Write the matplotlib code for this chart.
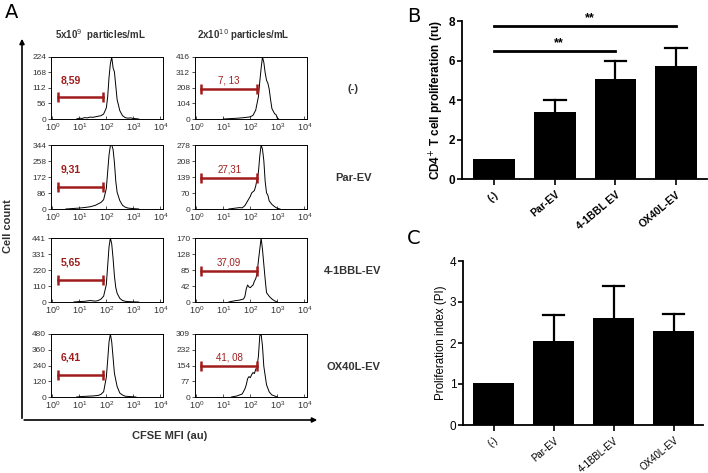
import numpy as np
import matplotlib
matplotlib.use('Agg')
from matplotlib import pyplot as plt

plt.rcParams['font.family'] = ['Liberation Sans', 'DejaVu Sans']

W, H = 708, 473

# ---- panel A: CFSE histograms (log10 CFSE, counts) ----
row_names = ['(-)', 'Par-EV', '4-1BBL-EV', 'OX40L-EV']
col_titles = ['5x10$^{9}$  particles/mL', '2x10$^{10}$ particles/mL']

# left column (5x10^9)
l1_x = [0.9, 1.0, 1.1, 1.2, 1.3, 1.4, 1.5, 1.6, 1.7, 1.8, 1.9, 2.0, 2.05, 2.1, 2.15, 2.2, 2.25, 2.3, 2.35, 2.4, 2.5, 2.6, 2.7, 2.8, 2.9, 3.0, 3.1, 3.2]
l1_y = [0, 3, 2, 5, 4, 7, 6, 8, 10, 12, 18, 40, 80, 150, 200, 224, 185, 170, 120, 70, 30, 12, 5, 3, 4, 2, 1, 0]
l2_x = [0.5, 0.8, 1.0, 1.2, 1.4, 1.6, 1.7, 1.8, 1.9, 2.0, 2.05, 2.1, 2.15, 2.2, 2.25, 2.3, 2.35, 2.4, 2.5, 2.6, 2.7, 2.8, 3.0, 3.2]
l2_y = [0, 3, 5, 8, 12, 20, 28, 35, 50, 110, 200, 290, 340, 344, 320, 250, 150, 90, 45, 20, 10, 5, 2, 0]
l3_x = [0.8, 1.0, 1.2, 1.4, 1.5, 1.6, 1.7, 1.8, 1.9, 2.0, 2.05, 2.1, 2.15, 2.2, 2.25, 2.3, 2.35, 2.4, 2.5, 2.6, 2.7, 2.8, 3.0, 3.2]
l3_y = [0, 3, 5, 10, 8, 6, 10, 20, 40, 120, 250, 380, 441, 400, 300, 180, 100, 60, 25, 10, 5, 3, 1, 0]
l4_x = [0.9, 1.1, 1.3, 1.5, 1.7, 1.8, 1.9, 2.0, 2.05, 2.1, 2.15, 2.2, 2.25, 2.3, 2.4, 2.5, 2.6, 2.7, 2.9, 3.1]
l4_y = [0, 4, 6, 8, 12, 20, 40, 150, 280, 420, 480, 420, 300, 180, 80, 30, 15, 6, 3, 0]

# right column (2x10^10)
r1_x = [1.0, 1.3, 1.5, 1.7, 1.9, 2.0, 2.1, 2.2, 2.3, 2.35, 2.4, 2.45, 2.5, 2.55, 2.6, 2.65, 2.7, 2.75, 2.8, 2.9, 2.95, 3.0, 3.05]
r1_y = [0, 3, 5, 8, 12, 15, 25, 60, 150, 250, 340, 416, 380, 310, 260, 240, 200, 130, 70, 35, 30, 5, 0]
r2_x = [1.2, 1.4, 1.6, 1.7, 1.8, 1.9, 2.0, 2.05, 2.1, 2.15, 2.2, 2.25, 2.3, 2.35, 2.4, 2.45, 2.5, 2.55, 2.6, 2.65, 2.7, 2.8, 2.9, 3.0, 3.1]
r2_y = [0, 3, 6, 5, 15, 35, 55, 70, 75, 80, 100, 130, 160, 230, 278, 260, 210, 120, 70, 60, 35, 20, 10, 3, 0]
r3_x = [1.2, 1.4, 1.6, 1.75, 1.8, 1.85, 1.9, 1.95, 2.0, 2.05, 2.1, 2.15, 2.2, 2.25, 2.3, 2.35, 2.4, 2.45, 2.5, 2.55, 2.6, 2.7, 2.8, 2.9, 3.0]
r3_y = [0, 3, 5, 8, 15, 35, 45, 40, 38, 42, 45, 55, 62, 75, 110, 140, 170, 140, 100, 60, 25, 15, 8, 3, 0]
r4_x = [1.3, 1.5, 1.7, 1.8, 1.85, 1.9, 1.95, 2.0, 2.05, 2.1, 2.15, 2.2, 2.25, 2.3, 2.35, 2.4, 2.45, 2.5, 2.6, 2.7, 2.8, 2.9, 3.0]
r4_y = [0, 5, 15, 40, 60, 90, 100, 95, 110, 120, 115, 135, 150, 200, 300, 309, 250, 150, 60, 25, 10, 5, 0]

hist_x = [[l1_x, r1_x], [l2_x, r2_x], [l3_x, r3_x], [l4_x, r4_x]]
hist_y = [[l1_y, r1_y], [l2_y, r2_y], [l3_y, r3_y], [l4_y, r4_y]]
hist_ymax = [[224, 416], [344, 278], [441, 170], [480, 309]]
gate_labels = [['8,59', '7, 13'], ['9,31', '27,31'], ['5,65', '37,09'], ['6,41', '41, 08']]
gate_left = [0.2, 1.86]     # log10 range of the gate, left column
gate_right = [0.18, 2.25]   # log10 range of the gate, right column

# ---- panel B / C ----
groups_b = ['(-)', 'Par-EV', '4-1BBL EV', 'OX40L-EV']
prolif_b = [1.0, 3.4, 5.05, 5.72]
err_b = [0.0, 0.62, 0.95, 0.9]
groups_c = ['(-)', 'Par-EV', '4-1BBL-EV', 'OX40L-EV']
prolif_c = [1.02, 2.05, 2.62, 2.3]
err_c = [0.0, 0.63, 0.76, 0.4]

fig = plt.figure(figsize=(W / 100, H / 100), dpi=100)


def px_axes(x0, y0, x1, y1):
    # rectangle given in pixels from top-left
    return fig.add_axes([x0 / W, 1 - y1 / H, (x1 - x0) / W, (y1 - y0) / H])


# overlay for arrows and free text
ov = fig.add_axes([0, 0, 1, 1])
ov.set_xlim(0, W)
ov.set_ylim(H, 0)
ov.axis('off')

row_px = [(57, 119), (145, 209), (238, 302), (334, 397)]
col_px = [(51, 163), (195, 307)]
red = '#a01c1c'
grey = '#333333'

for i in range(4):
    for j in range(2):
        ax = px_axes(col_px[j][0], row_px[i][0], col_px[j][1], row_px[i][1])
        ymax = hist_ymax[i][j]
        ax.plot(10 ** np.array(hist_x[i][j]), hist_y[i][j], color='black', lw=0.7)
        ax.set_xscale('log')
        ax.set_xlim(10 ** -0.05, 10 ** 4.1)
        ax.set_ylim(0, ymax)
        ax.set_yticks(np.linspace(0, ymax, 5))
        ax.set_yticklabels([str(int(round(v))) for v in np.linspace(0, ymax, 5)])
        ax.set_xticks([1, 10, 100, 1000, 10000])
        ax.tick_params(axis='both', labelsize=6, colors=grey, length=2, width=0.6, pad=1.5)
        ax.tick_params(axis='x', labelsize=6.5)
        ax.tick_params(axis='x', which='both', direction='in')
        ax.tick_params(axis='x', which='minor', length=1.5, width=0.5)
        for s in ax.spines.values():
            s.set_linewidth(0.7)
        g = gate_left if j == 0 else gate_right
        gy = ymax * (0.35 if j == 0 else 0.49)
        ax.plot([10 ** g[0], 10 ** g[1]], [gy, gy], color=red, lw=1.8,
                marker='|', markersize=7, mew=1.8)
        lx = 10 ** 0.68 if j == 0 else 10 ** ((g[0] + g[1]) / 2)
        ax.text(lx, ymax * 0.62, gate_labels[i][j], color=red, fontsize=7.5 if j == 0 else 7,
                fontweight='bold' if j == 0 else 'normal', ha='center', va='center')
    ov.text(353, (row_px[i][0] + row_px[i][1]) / 2 + 1, row_names[i], fontsize=8,
            fontweight='bold', color=grey, ha='center', va='center')

ov.text(100, 35, col_titles[0], fontsize=7, fontweight='bold', color=grey, ha='center', va='center')
ov.text(243, 35, col_titles[1], fontsize=7, fontweight='bold', color=grey, ha='center', va='center')
ov.annotate('', xy=(22, 36), xytext=(22, 421),
            arrowprops=dict(arrowstyle='-|>', color='black', lw=1.2, mutation_scale=7))
ov.annotate('', xy=(320, 420), xytext=(21.4, 420),
            arrowprops=dict(arrowstyle='-|>', color='black', lw=1.2, mutation_scale=7))
ov.text(8, 226, 'Cell count', rotation=90, fontsize=8, fontweight='bold', color=grey,
        ha='center', va='center')
ov.text(170, 436, 'CFSE MFI (au)', fontsize=8, fontweight='bold', color=grey,
        ha='center', va='center')
for letter, lx, ly in [('A', 12, 12), ('B', 414, 16), ('C', 414, 238)]:
    ov.text(lx, ly, letter, fontsize=14, family='DejaVu Sans', ha='center', va='center')


def bar_panel(ax, groups, vals, errs, ymax, ylabel, xlim, width, weight, xsize):
    x = np.arange(len(groups))
    ax.bar(x, vals, width=width, color='black', zorder=2)
    # upper error bars only, no cap where there is no error
    for xi, v, e in zip(x, vals, errs):
        if e > 0:
            ax.plot([xi, xi], [v, v + e], color='black', lw=1.6, zorder=1)
            ax.plot([xi - 0.18, xi + 0.18], [v + e, v + e], color='black', lw=1.6, zorder=1)
    ax.set_xlim(*xlim)
    ax.set_ylim(0, ymax)
    ax.set_yticks(np.arange(0, ymax + 1, 2 if ymax == 8 else 1))
    ax.set_xticks(x)
    ax.set_xticklabels(groups, rotation=40, ha='right', rotation_mode='anchor')
    for lab in ax.get_xticklabels() + ax.get_yticklabels():
        lab.set_fontweight(weight)
    ax.tick_params(axis='x', labelsize=xsize, length=4, width=1.2)
    ax.tick_params(axis='y', labelsize=8.5, length=3.8, width=1.2, pad=1)
    ax.spines['top'].set_visible(False)
    ax.spines['right'].set_visible(False)
    ax.spines['left'].set_linewidth(1.3)
    ax.spines['bottom'].set_linewidth(1.3)
    ax.set_ylabel(ylabel, fontsize=8.5 if weight == 'bold' else 8.3,
                  fontweight=weight, labelpad=2)


axb = px_axes(462, 21, 707, 179)
bar_panel(axb, groups_b, prolif_b, err_b, 8, 'CD4$^{+}$ T cell proliferation (ru)',
          (-0.53, 3.51), 0.69, 'bold', 7.5)
axb.plot([0, 2], [6.48, 6.48], color='black', lw=2, clip_on=False)
axb.text(1.07, 6.55, '**', fontsize=9, fontweight='bold', ha='center', va='bottom')
axb.plot([0, 3], [7.75, 7.75], color='black', lw=2, clip_on=False)
axb.text(1.58, 7.85, '**', fontsize=9, fontweight='bold', ha='center', va='bottom')

axc = px_axes(463, 261, 703, 425)
bar_panel(axc, groups_c, prolif_c, err_c, 4, 'Proliferation index (PI)',
          (-0.51, 3.49), 0.68, 'normal', 7)

fig.savefig('out.png', dpi=100)
